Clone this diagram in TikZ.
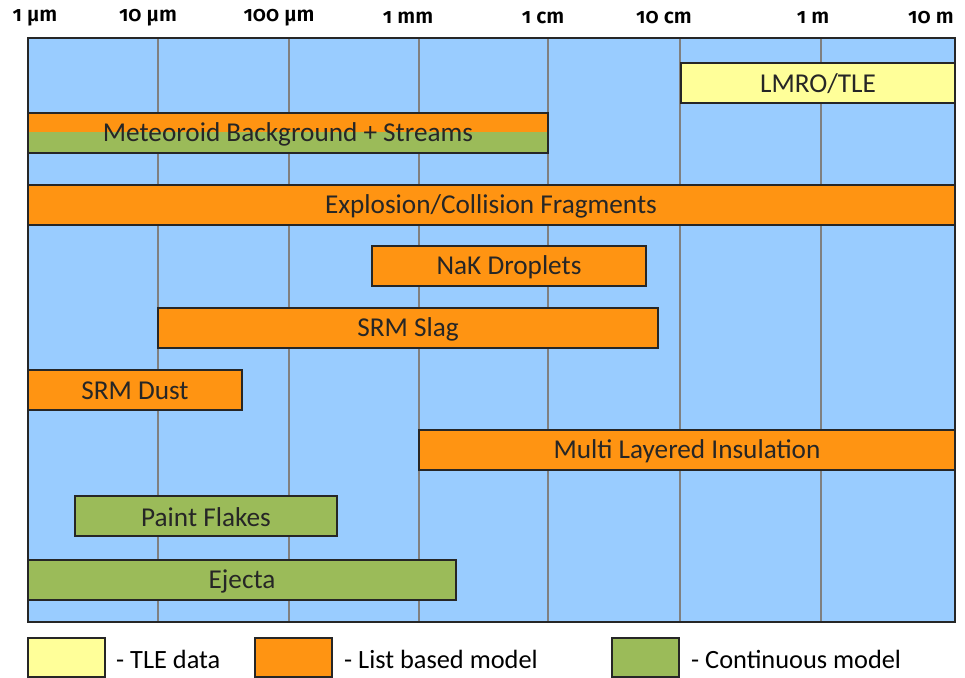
\documentclass[tikz,border=0pt]{standalone}
\usepackage{fontspec}
\setmainfont{Carlito}
\newfontfamily\axisfont[Numbers=OldStyle]{Fira Sans SemiBold}
\usetikzlibrary{calc}

\definecolor{skyblue}{RGB}{153,204,255}
\definecolor{listorange}{RGB}{255,148,18}
\definecolor{contgreen}{RGB}{155,187,89}
\definecolor{tleyellow}{RGB}{255,255,153}

\tikzset{
  bar/.style={draw=black!85, line width=1.2pt},
  barlabel/.style={font=\fontsize{15.5}{17}\selectfont, text=black!85},
  axislabel/.style={font=\axisfont\fontsize{12}{14}\selectfont},
  legendlabel/.style={font=\fontsize{15}{17}\selectfont, anchor=west}
}

\begin{document}
\begin{tikzpicture}[x=0.02cm, y=-0.02cm]
\useasboundingbox (0,0) rectangle (965,678);
\pgfmathsetmacro{\top}{38}
\pgfmathsetmacro{\bot}{622}

% panel
\fill[skyblue] (28,\top) rectangle (955,\bot);
\draw[gray, line width=1pt] (158,\top) -- (158,\bot);
\draw[gray, line width=1pt] (289,\top) -- (289,\bot);
\draw[gray, line width=1pt] (419,\top) -- (419,\bot);
\draw[gray, line width=1pt] (548,\top) -- (548,\bot);
\draw[gray, line width=1pt] (680,\top) -- (680,\bot);
\draw[gray, line width=1pt] (821,\top) -- (821,\bot);
\draw[black!85, line width=1.5pt] (28,\top) rectangle (955,\bot);

% size axis
\node[axislabel] (um1) at (35,18) {1 µm};
\node[axislabel] (um10) at (148,18) {10 µm};
\node[axislabel] (um100) at (279,18) {100 µm};
\node[axislabel] (mm1) at (408,18) {1 mm};
\node[axislabel] (cm1) at (543,18) {1 cm};
\node[axislabel] (cm10) at (664,18) {10 cm};
\node[axislabel] (m1) at (813,18) {1 m};
\node[axislabel] (m10) at (931,18) {10 m};

% sources
\draw[bar, fill=tleyellow] (681,63) rectangle (955,103);
\node[barlabel] (lmro) at (818,84) {LMRO/TLE};

\fill[listorange] (28,113) rectangle (548,132);
\fill[contgreen] (28,132) rectangle (548,153);
\draw[bar] (28,113) rectangle (548,153);
\node[barlabel] (meteor) at (288,134) {Meteoroid Background + Streams};

\draw[bar, fill=listorange] (28,185) rectangle (955,225);
\node[barlabel] (frag) at (491,206) {Explosion/Collision Fragments};

\draw[bar, fill=listorange] (372,246) rectangle (646,286);
\node[barlabel] (nak) at (509,267) {NaK Droplets};

\draw[bar, fill=listorange] (158,308) rectangle (658,348);
\node[barlabel] (slag) at (408,329) {SRM Slag};

\draw[bar, fill=listorange] (28,370) rectangle (242,410);
\node[barlabel] (dust) at (135,391) {SRM Dust};

\draw[bar, fill=listorange] (419,430) rectangle (955,470);
\node[barlabel] (mli) at (687,451) {Multi Layered Insulation};

\draw[bar, fill=contgreen] (75,496) rectangle (337,536);
\node[barlabel] (paint) at (206,517) {Paint Flakes};

\draw[bar, fill=contgreen] (28,560) rectangle (456,600);
\node[barlabel] (ejecta) at (242,581) {Ejecta};

% legend
\draw[bar, fill=tleyellow] (28,638) rectangle (105,677);
\node[legendlabel] (tle) at (110,659) {- TLE data};
\draw[bar, fill=listorange] (255,638) rectangle (332,677);
\node[legendlabel] (list) at (338,659) {- List based model};
\draw[bar, fill=contgreen] (612,638) rectangle (679,677);
\node[legendlabel] (cont) at (685,659) {- Continuous model};
\end{tikzpicture}
\end{document}
